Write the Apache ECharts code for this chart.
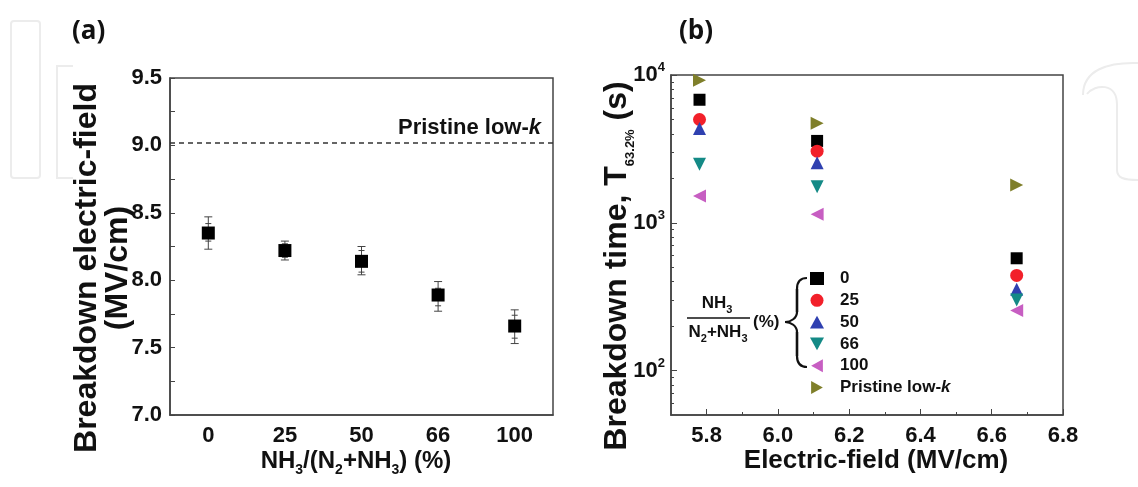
<!DOCTYPE html>
<html><head><meta charset="utf-8">
<script src="https://cdn.jsdelivr.net/npm/echarts@6/dist/echarts.min.js"></script>
<style>html,body{margin:0;padding:0;background:#fff}#c{width:1138px;height:487px}</style>
</head><body><div id="c"></div>
<script>
// ---------- Panel (a) data ----------
const ratioCategories = ['0', '25', '50', '66', '100'];
const breakdownField = [8.35, 8.22, 8.14, 7.89, 7.66];
const errOuterHigh = [8.47, 8.29, 8.25, 7.99, 7.78];
const errInnerHigh = [8.42, 8.27, 8.22, 7.94, 7.74];
const errInnerLow  = [8.29, 8.17, 8.06, 7.81, 7.57];
const errOuterLow  = [8.23, 8.15, 8.04, 7.77, 7.53];
const pristineBreakdown = 9.02;

// ---------- Panel (b) data ----------
const fieldValues = [5.78, 6.11, 6.67];
const seriesNames = ['0', '25', '50', '66', '100', 'Pristine low-k'];
const t0 = [6800, 3580, 575];
const t25 = [5000, 3050, 440];
const t50 = [4350, 2550, 355];
const t66 = [2490, 1750, 300];
const t100 = [1520, 1140, 255];
const tPristine = [9200, 4720, 1800];

// tick labels
const bXLabels = [5.8, 6.0, 6.2, 6.4, 6.6, 6.8];
const bXMinor = [5.9, 6.1, 6.3, 6.5, 6.7];
const bYLabels = [100, 1000, 10000];
const bYMinor = [60, 70, 80, 90, 200, 300, 400, 500, 600, 700, 800, 900,
                 2000, 3000, 4000, 5000, 6000, 7000, 8000, 9000];

const FONT = "'Liberation Sans', Arial, sans-serif";
const AX = '#444';
const TXT = '#111';

const chart = echarts.init(document.getElementById('c'), null, {renderer: 'canvas'});

const bSeriesData = [t0, t25, t50, t66, t100, tPristine];
const bSymbols = ['rect', 'circle', 'path://M5,0L10,9L0,9Z', 'path://M0,0L10,0L5,9Z', 'path://M0,5L9,0L9,10Z', 'path://M0,0L9,5L0,10Z'];
const bColors = ['#000000', '#f2202a', '#2f40b0', '#148a86', '#c75ec2', '#7f7f2a'];
const bSizes = [12, 13, 13, 13, 13, 13];

const bSeries = seriesNames.map((name, i) => ({
  name: name,
  type: 'scatter',
  xAxisIndex: 1, yAxisIndex: 1,
  symbol: bSymbols[i],
  symbolSize: bSizes[i],
  itemStyle: {color: bColors[i], opacity: 1},
  data: fieldValues.map((f, j) => [f, bSeriesData[i][j]]),
  z: 3
}));

const tickFont = {fontSize: 22, fontWeight: 'bold', color: TXT, fontFamily: FONT};

const option = {
  backgroundColor: '#fff',
  animation: false,
  textStyle: {fontFamily: FONT},
  grid: [
    {left: 170, top: 78, width: 383, height: 337, show: true, borderColor: AX, borderWidth: 1.5, backgroundColor: 'transparent'},
    {left: 671, top: 75, width: 392, height: 340, show: true, borderColor: AX, borderWidth: 1.5, backgroundColor: 'transparent'}
  ],
  xAxis: [
    {
      type: 'category', gridIndex: 0, position: 'bottom', data: ratioCategories,
      axisLine: {lineStyle: {color: AX, width: 1.5}},
      axisTick: {show: false},
      axisLabel: Object.assign({margin: 10}, tickFont)
    },
    {
      type: 'value', gridIndex: 1, position: 'bottom', min: 5.7, max: 6.8,
      axisLine: {onZero: false, lineStyle: {color: AX, width: 1.5}},
      axisTick: {inside: true, length: 6, customValues: bXLabels, lineStyle: {color: AX}},
      axisLabel: Object.assign({customValues: bXLabels, margin: 10, formatter: v => v.toFixed(1)}, tickFont),
      splitLine: {show: false}
    },
    {
      type: 'value', gridIndex: 1, position: 'bottom', min: 5.7, max: 6.8,
      axisLine: {show: false, onZero: false},
      axisTick: {inside: true, length: 3, customValues: bXMinor, lineStyle: {color: AX}},
      axisLabel: {show: false},
      splitLine: {show: false}
    }
  ],
  yAxis: [
    {
      type: 'value', gridIndex: 0, position: 'left', min: 7.0, max: 9.5, interval: 0.5,
      axisLine: {show: true, lineStyle: {color: AX, width: 1.5}},
      axisTick: {show: true, inside: true, length: 5, lineStyle: {color: AX}},
      minorTick: {show: true, splitNumber: 2, length: 5, lineStyle: {color: AX}},
      axisLabel: Object.assign({margin: 8, formatter: v => v.toFixed(1)}, tickFont),
      splitLine: {show: false}
    },
    {
      type: 'log', gridIndex: 1, position: 'left', min: 50, max: 10000, logBase: 10,
      axisLine: {show: true, onZero: false, lineStyle: {color: AX, width: 1.5}},
      axisTick: {show: true, inside: true, length: 6, customValues: bYLabels, lineStyle: {color: AX}},
      axisLabel: {customValues: bYLabels, margin: 6, fontFamily: FONT,
        formatter: v => '{b|10}{p|' + Math.round(Math.log10(v)) + '}',
        rich: {
          b: {fontSize: 22, fontWeight: 'bold', color: TXT, fontFamily: FONT},
          p: {fontSize: 13, fontWeight: 'bold', color: TXT, fontFamily: FONT, verticalAlign: 'top', lineHeight: 28}
        }},
      splitLine: {show: false}
    },
    {
      type: 'log', gridIndex: 1, position: 'left', min: 50, max: 10000, logBase: 10,
      axisLine: {show: false, onZero: false},
      axisTick: {show: true, inside: true, length: 3, customValues: bYMinor, lineStyle: {color: AX}},
      axisLabel: {show: false},
      splitLine: {show: false}
    }
  ],
  legend: {
    data: seriesNames,
    orient: 'vertical',
    left: 805, top: 265,
    itemWidth: 14, itemHeight: 13, itemGap: 4.8,
    formatter: n => n === 'Pristine low-k' ? '{n|Pristine low-}{i|k}' : n,
    textStyle: {fontSize: 17, fontWeight: 'bold', color: TXT, fontFamily: FONT, padding: [0, 0, 0, 11],
      rich: {
        n: {fontSize: 17, fontWeight: 'bold', color: TXT, fontFamily: FONT},
        i: {fontSize: 17, fontWeight: 'bold', fontStyle: 'italic', color: TXT, fontFamily: FONT}
      }}
  },
  series: [
    {
      name: 'err', type: 'custom', xAxisIndex: 0, yAxisIndex: 0, z: 2,
      encode: {x: 0, y: [1, 2, 3, 4]},
      data: ratioCategories.map((c, i) => [i, errOuterHigh[i], errInnerHigh[i], errInnerLow[i], errOuterLow[i]]),
      renderItem: function (params, api) {
        const xv = api.value(0);
        const p = [1, 2, 3, 4].map(k => api.coord([xv, api.value(k)]));
        const cx = p[0][0];
        const st = {stroke: '#444', lineWidth: 1};
        const children = [{type: 'line', shape: {x1: cx, y1: p[0][1], x2: cx, y2: p[3][1]}, style: st}];
        [[0, 4], [1, 3], [2, 3], [3, 4]].forEach(([k, w]) => children.push(
          {type: 'line', shape: {x1: cx - w, y1: p[k][1], x2: cx + w, y2: p[k][1]}, style: st}));
        return {type: 'group', children: children};
      }
    },
    {
      name: 'Breakdown', type: 'scatter', xAxisIndex: 0, yAxisIndex: 0, z: 3,
      symbol: 'rect', symbolSize: 13, itemStyle: {color: '#000', opacity: 1},
      data: breakdownField.map((v, i) => [i, v]),
      markLine: {
        silent: true, symbol: 'none',
        lineStyle: {type: [5, 4], color: '#333', width: 1.5},
        label: {
          position: 'insideEndTop', distance: [12, 4],
          formatter: '{n|Pristine low-}{i|k}',
          rich: {
            n: {fontSize: 22, fontWeight: 'bold', color: TXT, fontFamily: FONT},
            i: {fontSize: 22, fontWeight: 'bold', fontStyle: 'italic', color: TXT, fontFamily: FONT}
          }
        },
        data: [{yAxis: pristineBreakdown}]
      }
    }
  ].concat(bSeries),
  graphic: [
    // watermark
    {type: 'rect', shape: {x: 11, y: 21, width: 29, height: 157, r: 3}, style: {fill: 'none', stroke: '#ececec', lineWidth: 2}, z: -1},
    {type: 'polyline', shape: {points: [[73, 66], [57, 66], [57, 178], [73, 178]]}, style: {fill: 'none', stroke: '#ececec', lineWidth: 2}, z: -1},
    {type: 'bezierCurve', shape: {x1: 1083, y1: 95, cpx1: 1083, cpy1: 70, cpx2: 1108, cpy2: 62, x2: 1138, y2: 63}, style: {fill: 'none', stroke: '#ececec', lineWidth: 2}, z: -1},
    {type: 'bezierCurve', shape: {x1: 1087, y1: 94, cpx1: 1095, cpy1: 84, cpx2: 1117, cpy2: 82, x2: 1117, y2: 105}, style: {fill: 'none', stroke: '#ececec', lineWidth: 2}, z: -1},
    {type: 'polyline', shape: {points: [[1117, 105], [1117, 170]]}, style: {fill: 'none', stroke: '#ececec', lineWidth: 2}, z: -1},
    {type: 'bezierCurve', shape: {x1: 1117, y1: 170, cpx1: 1117, cpy1: 178, cpx2: 1124, cpy2: 180, x2: 1138, y2: 180}, style: {fill: 'none', stroke: '#ececec', lineWidth: 2}, z: -1},
    // panel labels
    {type: 'text', x: 72, y: 32, style: {text: '(a)', font: "bold 26px 'Open Sans', sans-serif", fill: TXT, align: 'left', verticalAlign: 'middle'}},
    {type: 'text', x: 679, y: 32, style: {text: '(b)', font: "bold 26px 'Open Sans', sans-serif", fill: TXT, align: 'left', verticalAlign: 'middle'}},
    // axis titles
    {type: 'text', x: 103, y: 268, rotation: Math.PI / 2,
      style: {text: 'Breakdown electric-field\n(MV/cm)', font: "bold 32px 'Liberation Sans', Arial, sans-serif", lineHeight: 31,
              fill: TXT, align: 'center', verticalAlign: 'middle'}},
    {type: 'text', x: 356, y: 461,
      style: {text: '{t|NH}{s|3}{t|/(N}{s|2}{t|+NH}{s|3}{t|) (%)}', align: 'center', verticalAlign: 'middle',
        rich: {
          t: {fontSize: 24, fontWeight: 'bold', fontFamily: FONT, fill: TXT},
          s: {fontSize: 14, fontWeight: 'bold', fontFamily: FONT, fill: TXT, verticalAlign: 'bottom', lineHeight: 32}
        }}},
    {type: 'text', x: 617, y: 266, rotation: Math.PI / 2,
      style: {text: '{t|Breakdown time, T}{s|63.2%}{t| (s)}', align: 'center', verticalAlign: 'middle',
        rich: {
          t: {fontSize: 32, fontWeight: 'bold', fontFamily: FONT, fill: TXT},
          s: {fontSize: 13, fontWeight: 'bold', fontFamily: FONT, fill: TXT, verticalAlign: 'bottom', lineHeight: 40}
        }}},
    {type: 'text', x: 876, y: 461,
      style: {text: 'Electric-field (MV/cm)', font: "bold 26px 'Liberation Sans', Arial, sans-serif", fill: TXT, align: 'center', verticalAlign: 'middle'}},
    // fraction label for legend
    {type: 'text', x: 717, y: 303, style: {text: '{t|NH}{s|3}', align: 'center', verticalAlign: 'middle',
      rich: {t: {fontSize: 17, fontWeight: 'bold', fontFamily: FONT, fill: TXT}, s: {fontSize: 11, fontWeight: 'bold', fontFamily: FONT, fill: TXT, verticalAlign: 'bottom', lineHeight: 24}}}},
    {type: 'line', shape: {x1: 687, y1: 318, x2: 750, y2: 318}, style: {stroke: TXT, lineWidth: 1.5}},
    {type: 'text', x: 718, y: 332, style: {text: '{t|N}{s|2}{t|+NH}{s|3}', align: 'center', verticalAlign: 'middle',
      rich: {t: {fontSize: 17, fontWeight: 'bold', fontFamily: FONT, fill: TXT}, s: {fontSize: 11, fontWeight: 'bold', fontFamily: FONT, fill: TXT, verticalAlign: 'bottom', lineHeight: 24}}}},
    {type: 'text', x: 753, y: 322, style: {text: '(%)', font: "bold 17px 'Liberation Sans', Arial, sans-serif", fill: TXT, align: 'left', verticalAlign: 'middle'}},
    // brace
    {type: 'group', children: [
      {type: 'bezierCurve', shape: {x1: 807, y1: 278, cpx1: 800, cpy1: 278, cpx2: 797, cpy2: 282, x2: 797, y2: 289}, style: {stroke: TXT, lineWidth: 2.2, fill: 'none'}},
      {type: 'line', shape: {x1: 797, y1: 289, x2: 797, y2: 312}, style: {stroke: TXT, lineWidth: 2.6}},
      {type: 'bezierCurve', shape: {x1: 797, y1: 312, cpx1: 797, cpy1: 318, cpx2: 791, cpy2: 322, x2: 785, y2: 322}, style: {stroke: TXT, lineWidth: 2.2, fill: 'none'}},
      {type: 'bezierCurve', shape: {x1: 785, y1: 322, cpx1: 791, cpy1: 322, cpx2: 797, cpy2: 326, x2: 797, y2: 332}, style: {stroke: TXT, lineWidth: 2.2, fill: 'none'}},
      {type: 'line', shape: {x1: 797, y1: 332, x2: 797, y2: 356}, style: {stroke: TXT, lineWidth: 2.6}},
      {type: 'bezierCurve', shape: {x1: 797, y1: 356, cpx1: 797, cpy1: 363, cpx2: 800, cpy2: 367, x2: 807, y2: 367}, style: {stroke: TXT, lineWidth: 2.2, fill: 'none'}}
    ]}
  ]
};
chart.setOption(option);
</script>
</body></html>
